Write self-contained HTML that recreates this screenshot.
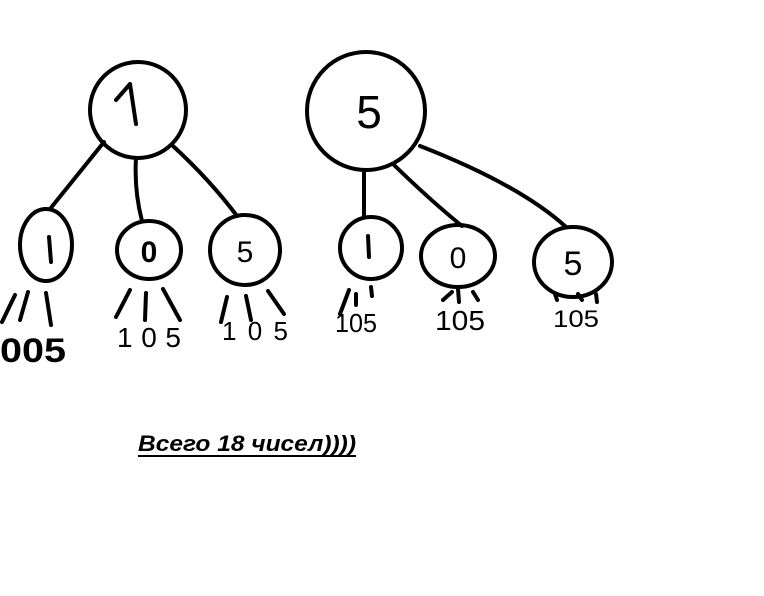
<!DOCTYPE html>
<html><head><meta charset="utf-8"><style>html,body{margin:0;padding:0;background:#fff}</style></head>
<body>
<svg width="764" height="596" viewBox="0 0 764 596" xmlns="http://www.w3.org/2000/svg" style="display:block">
<rect width="764" height="596" fill="#fff"/>
<g fill="none" stroke="#000" stroke-width="4" stroke-linecap="round">
<circle cx="138" cy="110" r="48"/>
<circle cx="366" cy="111" r="59"/>
<ellipse cx="46" cy="245" rx="26" ry="36"/>
<ellipse cx="149" cy="250" rx="32" ry="29"/>
<ellipse cx="245" cy="250" rx="35" ry="35"/>
<ellipse cx="371" cy="248" rx="31" ry="31"/>
<ellipse cx="458" cy="256" rx="37" ry="31"/>
<ellipse cx="573" cy="262" rx="39" ry="35"/>
<path d="M104 142 L50 209 M136 158 Q134 190 142 221 M173 146 Q210 180 237 216 M364 170 L364 217 M393 164 Q430 200 462 226 M420 146 Q520 185 566 227"/>
<path d="M130 84 L136 124 M116 100 L130 84"/>
<path d="M49 237 L51 262 M15 295 L2 322 M28 292 L20 320 M46 293 L51 325"/>
<path d="M130 290 L116 317 M146 293 L145 320 M163 289 L180 320"/>
<path d="M227 297 L221 322 M246 296 L251 320 M268 291 L284 314"/>
<path d="M368 236 L369 257 M349 290 L340 314 M356 294 L356 305 M371 287 L372 296"/>
<path d="M452 292 L443 300 M458 289 L459 302 M473 292 L478 300"/>
<path d="M555 294 L557 300 M578 294 L582 300 M596 294 L597 302"/>
</g>
<g font-family="Liberation Sans, sans-serif" fill="#000">
<text x="369" y="128" font-size="46" text-anchor="middle">5</text>
<text x="149" y="262" font-size="30" text-anchor="middle" font-weight="bold">0</text>
<text x="245" y="262" font-size="30" text-anchor="middle">5</text>
<text x="458" y="268" font-size="30" text-anchor="middle">0</text>
<text x="573" y="275" font-size="34" text-anchor="middle">5</text>
<text x="0" y="362" font-size="34" font-weight="bold" textLength="66" lengthAdjust="spacingAndGlyphs">005</text>
<text x="117" y="347" font-size="28" textLength="64" lengthAdjust="spacing">105</text>
<text x="222" y="340" font-size="26" textLength="66" lengthAdjust="spacing">105</text>
<text x="335" y="332" font-size="26" textLength="42" lengthAdjust="spacingAndGlyphs">105</text>
<text x="435" y="330" font-size="28" textLength="50" lengthAdjust="spacingAndGlyphs">105</text>
<text x="553" y="327" font-size="24" textLength="46" lengthAdjust="spacingAndGlyphs">105</text>
<text x="138" y="451" font-size="22" font-weight="bold" font-style="italic" textLength="218" lengthAdjust="spacingAndGlyphs">Всего 18 чисел))))</text>
</g>
<line x1="138" y1="456" x2="356" y2="456" stroke="#000" stroke-width="2"/>
</svg>
</body></html>
